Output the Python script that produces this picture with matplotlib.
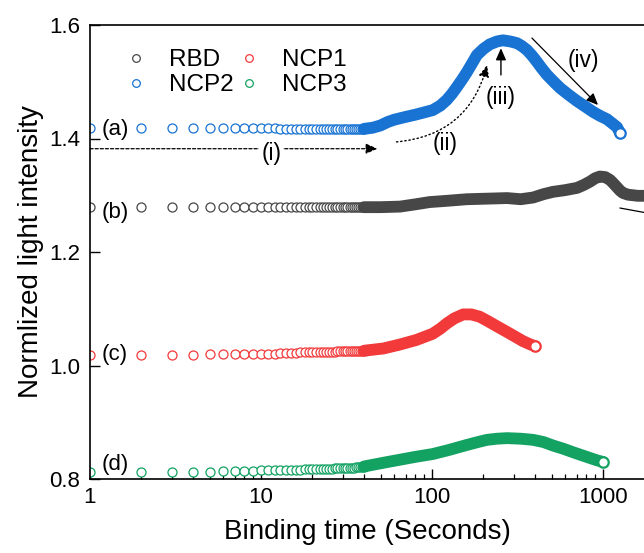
import matplotlib

matplotlib.use("Agg")
import matplotlib.pyplot as plt
import numpy as np
from matplotlib.lines import Line2D
from matplotlib.ticker import FixedLocator, FuncFormatter, LogLocator, NullFormatter

plt.rcParams["font.family"] = ["Liberation Sans", "DejaVu Sans"]

# ---- data ------------------------------------------------------------------
# first 40 s, one reading per second (individual circles are visible here)
early_t = np.arange(1, 41)

rbd_early = [1.279, 1.279, 1.279, 1.279, 1.279, 1.279, 1.279, 1.279, 1.280, 1.279,
             1.279, 1.280, 1.279, 1.279, 1.280, 1.279, 1.280, 1.279, 1.279, 1.280,
             1.279, 1.280, 1.279, 1.280, 1.279, 1.279, 1.280, 1.279, 1.280, 1.279,
             1.279, 1.280, 1.279, 1.279, 1.280, 1.279, 1.279, 1.280, 1.279, 1.279]
ncp1_early = [1.019, 1.019, 1.019, 1.019, 1.020, 1.020, 1.020, 1.020, 1.021, 1.021,
              1.021, 1.021, 1.022, 1.022, 1.022, 1.022, 1.023, 1.023, 1.023, 1.023,
              1.023, 1.024, 1.024, 1.024, 1.024, 1.024, 1.024, 1.025, 1.025, 1.025,
              1.025, 1.025, 1.025, 1.025, 1.026, 1.026, 1.026, 1.026, 1.026, 1.026]
ncp2_early = [1.419, 1.419, 1.419, 1.419, 1.419, 1.419, 1.418, 1.418, 1.418, 1.418,
              1.418, 1.418, 1.417, 1.417, 1.417, 1.417, 1.417, 1.417, 1.416, 1.416,
              1.417, 1.416, 1.416, 1.417, 1.416, 1.416, 1.417, 1.416, 1.416, 1.417,
              1.416, 1.416, 1.417, 1.416, 1.416, 1.417, 1.417, 1.416, 1.417, 1.417]
ncp3_early = [0.813, 0.813, 0.813, 0.813, 0.813, 0.814, 0.814, 0.814, 0.814, 0.815,
              0.815, 0.815, 0.815, 0.816, 0.816, 0.816, 0.816, 0.817, 0.817, 0.817,
              0.817, 0.818, 0.818, 0.818, 0.818, 0.818, 0.819, 0.819, 0.819, 0.819,
              0.819, 0.820, 0.820, 0.820, 0.820, 0.821, 0.821, 0.821, 0.822, 0.822]

# after ~40 s the circles merge into a solid band
rbd_t = [40, 50, 65, 80, 97, 120, 160, 210, 275, 330, 390, 450, 510, 600, 705,
         770, 839, 900, 960, 1030, 1099, 1150, 1208, 1260, 1309, 1400, 1497, 1600, 1714, 1850]
rbd_v = [1.279, 1.279, 1.280, 1.284, 1.288, 1.290, 1.293, 1.294, 1.295, 1.293, 1.296,
         1.302, 1.306, 1.309, 1.313, 1.318, 1.324, 1.330, 1.333, 1.332, 1.327, 1.321,
         1.314, 1.308, 1.304, 1.301, 1.300, 1.299, 1.299, 1.299]

ncp1_t = [40, 52, 65, 81, 101, 112, 122, 135, 152, 170, 190, 210, 240, 275, 310, 340, 370, 400]
ncp1_v = [1.026, 1.030, 1.037, 1.045, 1.056, 1.065, 1.074, 1.083, 1.090, 1.090, 1.086,
          1.079, 1.069, 1.059, 1.050, 1.043, 1.038, 1.034]

ncp2_t = [40, 45, 50, 55, 60, 70, 80, 90, 101, 112, 122, 131, 140, 150, 160, 172, 183,
          200, 218, 240, 260, 287, 314, 335, 359, 385, 411, 440, 471, 515, 561, 630,
          705, 790, 874, 960, 1055, 1130, 1208, 1257]
ncp2_v = [1.417, 1.419, 1.423, 1.429, 1.433, 1.438, 1.442, 1.446, 1.450, 1.458, 1.468,
          1.479, 1.491, 1.504, 1.517, 1.533, 1.547, 1.558, 1.566, 1.571, 1.573, 1.571,
          1.568, 1.563, 1.556, 1.546, 1.535, 1.523, 1.512, 1.500, 1.489, 1.477, 1.466,
          1.456, 1.447, 1.440, 1.434, 1.427, 1.420, 1.410]

ncp3_t = [40, 45, 55, 65, 80, 101, 125, 160, 185, 210, 240, 275, 330, 390, 450, 510,
          590, 670, 750, 839, 920, 1000]
ncp3_v = [0.822, 0.825, 0.830, 0.834, 0.839, 0.844, 0.851, 0.860, 0.865, 0.869, 0.871,
          0.872, 0.871, 0.869, 0.865, 0.859, 0.853, 0.847, 0.842, 0.837, 0.833, 0.830]

series = [
    ("RBD", "#474747", rbd_early, rbd_t, rbd_v, False),
    ("NCP1", "#f23a3a", ncp1_early, ncp1_t, ncp1_v, True),
    ("NCP2", "#1873d3", ncp2_early, ncp2_t, ncp2_v, True),
    ("NCP3", "#13a262", ncp3_early, ncp3_t, ncp3_v, True),
]
curve_labels = ["(a)", "(b)", "(c)", "(d)"]
curve_label_y = [1.415, 1.269, 1.019, 0.826]

y_ticks = [0.8, 1.0, 1.2, 1.4, 1.6]

# ---- figure ----------------------------------------------------------------
fig = plt.figure(figsize=(6.44, 5.53), dpi=100)
ax = fig.add_axes([90 / 644, 1 - 479 / 553, (644 - 90) / 644, (479 - 25) / 553])

handles = {}
for name, color, early, t_band, v_band, end_marker in series:
    ax.plot(early_t, early, ls="none", marker="o", ms=6.5, mew=0.9,
            mfc="white", mec=color, zorder=2)
    ax.plot(t_band, v_band, color=color, lw=8.5, solid_capstyle="round",
            solid_joinstyle="round", zorder=3)
    if end_marker:
        ax.plot(t_band[-1], v_band[-1], ls="none", marker="o", ms=7.5, mew=1.6,
                mfc="white", mec=color, zorder=4)
    handles[name] = Line2D([], [], ls="none", marker="o", ms=5.5, mew=0.9,
                           mfc="white", mec=color)

for lab, yv in zip(curve_labels, curve_label_y):
    ax.text(1.40, yv, lab, fontsize=16, ha="center", va="center", zorder=5)

# process arrows (i)-(iv)
ax.annotate("", xy=(48, 1.382), xytext=(1, 1.382),
            arrowprops=dict(arrowstyle="-|>,head_length=0.5,head_width=0.22",
                            mutation_scale=14, linestyle=(0, (2.5, 1.6)), lw=0.9,
                            color="black", shrinkA=0, shrinkB=0))
ax.text(11.5, 1.374, "(i)", fontsize=16.5, ha="center", va="center", zorder=5,
        bbox=dict(facecolor="white", edgecolor="none", pad=1.5))

ax.annotate("", xy=(210, 1.5295), xytext=(62, 1.394),
            arrowprops=dict(arrowstyle="-|>,head_length=0.5,head_width=0.22",
                            mutation_scale=14, linestyle=(0, (1, 2)), lw=1.0,
                            color="black", shrinkA=0, shrinkB=0,
                            connectionstyle="arc3,rad=0.35"))
ax.text(119, 1.392, "(ii)", fontsize=16.5, ha="center", va="center", zorder=5)

ax.annotate("", xy=(253, 1.559), xytext=(253, 1.512),
            arrowprops=dict(arrowstyle="-|>,head_length=0.5,head_width=0.22",
                            mutation_scale=14, lw=1.0, color="black",
                            shrinkA=0, shrinkB=0))
ax.text(253, 1.473, "(iii)", fontsize=16.5, ha="center", va="center", zorder=5)

ax.annotate("", xy=(935, 1.459), xytext=(384, 1.577),
            arrowprops=dict(arrowstyle="-|>,head_length=0.5,head_width=0.22",
                            mutation_scale=14, lw=0.9, color="black",
                            shrinkA=0, shrinkB=0))
ax.text(764, 1.538, "(iv)", fontsize=16.5, ha="center", va="center", zorder=5)

ax.annotate("", xy=(2400, 1.262), xytext=(1256, 1.2775), annotation_clip=False,
            arrowprops=dict(arrowstyle="-", lw=0.9, color="black",
                            shrinkA=0, shrinkB=0))

# axes styling
ax.set_xscale("log")
ax.set_xlim(1, 10 ** ((644 - 90) / 171))
ax.set_ylim(0.8, 1.6)
ax.xaxis.set_major_locator(LogLocator(base=10))
ax.xaxis.set_major_formatter(FuncFormatter(lambda v, _: f"{v:g}"))
ax.xaxis.set_minor_locator(LogLocator(base=10, subs=np.arange(2, 10)))
ax.xaxis.set_minor_formatter(NullFormatter())
ax.yaxis.set_major_locator(FixedLocator(y_ticks))
ax.yaxis.set_major_formatter(FuncFormatter(lambda v, _: f"{v:.1f}"))

ax.tick_params(axis="both", which="major", direction="in", length=7, width=1.0,
               labelsize=16, pad=7)
ax.tick_params(axis="x", which="minor", direction="in", length=3.5, width=0.9)
ax.tick_params(axis="x", which="major", pad=6)
for side in ("left", "bottom", "top"):
    ax.spines[side].set_linewidth(1.2)
ax.spines["right"].set_visible(False)

ax.set_xlabel("Binding time (Seconds)", fontsize=20, labelpad=8)
ax.set_ylabel("Normlized light intensity", fontsize=20, labelpad=4)

order = ["RBD", "NCP2", "NCP1", "NCP3"]
ax.legend([handles[k] for k in order], order, ncol=2, frameon=False, fontsize=17.5,
          loc="upper left", bbox_to_anchor=(0.022, 0.995), handlelength=1.0,
          handletextpad=0.85, columnspacing=0.15, labelspacing=0.12, borderpad=0.4)

fig.savefig("out.png", dpi=100)
plt.close(fig)
